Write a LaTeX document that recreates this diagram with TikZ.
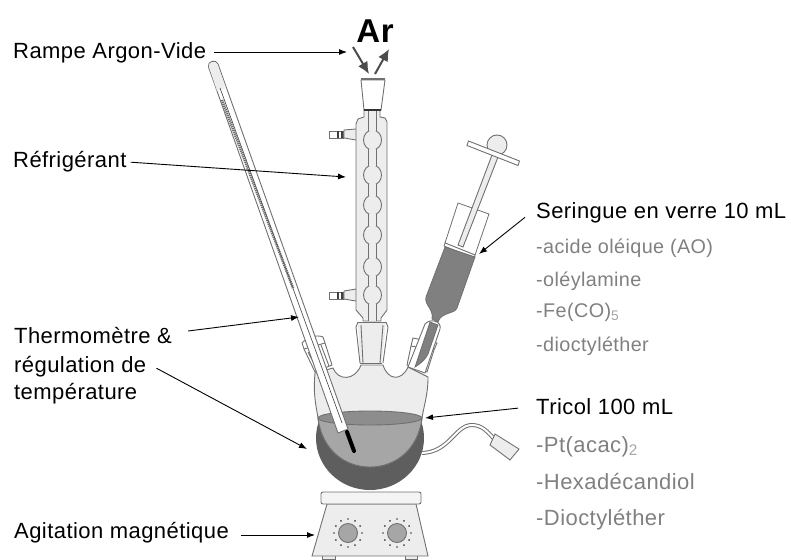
\documentclass[tikz,border=0pt]{standalone}
\usepackage{fontspec}
\setmainfont{Liberation Sans}[LetterSpace=2]
\usepackage{xcolor}
\usetikzlibrary{arrows.meta, positioning}
\definecolor{glass}{HTML}{EDEDED}
\definecolor{glassline}{HTML}{707070}
\definecolor{liquid}{HTML}{A6A6A6}
\definecolor{syrliquid}{HTML}{808080}
\definecolor{mantle}{HTML}{5E5E5E}
\definecolor{sublabel}{HTML}{808080}
\begin{document}
\begin{tikzpicture}[x=1pt, y=-1pt, >={Latex[length=8pt,width=6pt]},
  lab/.style={anchor=base west, inner sep=0pt, font=\fontsize{22}{26}\selectfont},
  sublab/.style={anchor=base west, inner sep=0pt, text=sublabel, font=\fontsize{19.8}{23}\selectfont},
  subtri/.style={anchor=base west, inner sep=0pt, text=sublabel, font=\fontsize{22}{26}\selectfont},
  conn/.style={->, line width=0.9pt},
  gas/.style={->, line width=2pt, draw=black!70, >={Latex[length=12pt,width=11pt]}},
  gl/.style={draw=glassline, line width=0.9pt, fill=glass},
  gw/.style={draw=glassline, line width=0.9pt, fill=white},
  neck/.style={glassline, line width=0.9pt}]
  \useasboundingbox (0,0) rectangle (791,559);

  % hot plate
  \draw[gl] (322,555) rectangle (335,559);
  \draw[gl] (405,555) rectangle (417,559);
  \draw[gl] (327,504) -- (416,504) -- (428,556) -- (312,556) -- cycle;
  \draw[gl, fill=glass!60, rounded corners=2pt] (321,492) rectangle (421,504);
  \foreach \kx in {348,397} {
    \draw[gl, fill=liquid] (\kx,533) circle (9.5);
    \foreach \ka in {0,30,...,330}
      \fill[black!75] (\kx,533) ++(\ka:14) circle (0.9);
  }

  % heating mantle and its cable
  \fill[mantle] (370,438) ellipse (54 and 52);
  \draw[glassline, line width=4pt] (422,453) .. controls (450,452) and (455,425) .. (472,425) .. controls (482,425) and (488,432) .. (495,440);
  \draw[white, line width=2pt] (422,453) .. controls (450,452) and (455,425) .. (472,425) .. controls (482,425) and (488,432) .. (495,440);
  \draw[gl] (495,434) -- (519,449) -- (510,460) -- (490,445) -- cycle;

  % flask
  \draw[gl] (315,373) .. controls (313,395) and (316,405) .. (318,418)
    .. controls (322,450) and (345,467) .. (370,467)
    .. controls (395,467) and (418,450) .. (422,418)
    .. controls (424,405) and (428,395) .. (428,377)
    -- (408,367) .. controls (402,381) and (388,381) .. (383,365)
    -- (361,365) .. controls (355,381) and (338,381) .. (333,368) -- cycle;
  \fill[liquid] (318,418) .. controls (322,450) and (345,467) .. (370,467)
    .. controls (395,467) and (418,450) .. (422,418) -- cycle;
  \draw[glassline, line width=0.9pt, fill=liquid!85!black] (370,418) ellipse (52 and 7);
  \draw[neck] (318,418) .. controls (322,450) and (345,467) .. (370,467)
    .. controls (395,467) and (418,450) .. (422,418);

  % central joint
  \draw[gl, draw=none] (358,322) -- (386,322) -- (382,363) -- (360,363) -- cycle;
  \draw[neck] (358,322) -- (386,322) (360,363) -- (382,363);
  \draw[neck] (358,322) -- (356,327) -- (360,363) (361,325) -- (363,363);
  \draw[neck] (386,322) -- (388,327) -- (383,363) (383,325) -- (380,363);

  % side joints
  \draw[gw] (302,343) -- (304,349) -- (315,372) -- (332,365) -- (325,343) -- (323,337) .. controls (316,334) and (306,338) .. (302,343);
  \draw[neck] (304,349) -- (325,343);
  \draw[neck] (308,352) -- (318,371) (321,345) -- (329,366);
  \draw[gw] (413,338) -- (437,343) -- (434,350) -- (427,372) -- (407,365) -- (411,346) -- cycle;
  \draw[neck] (411,346) -- (434,350);
  \draw[gl, fill=white] (425,324) .. controls (430,318) and (442,321) .. (440,329) -- (425,373) -- (408,367) -- cycle;

  % syringe
  \draw[glassline, line width=0.8pt, fill=white] (458,203) -- (489,214) -- (475,255) -- (445,243) -- cycle;
  \draw[glassline, fill=white, line width=0.8pt] (445,243) -- (475,255) -- (474,258) -- (444,246) -- cycle;
  \draw[gl] (492,155) -- (498,157) -- (463,247) -- (458,245) -- cycle;
  \draw[gl] (497,145) circle (10);
  \draw[gw] (468.5,141) -- (519.5,161) -- (518,165.5) -- (467,145.5) -- cycle;
  \draw[glassline, line width=0.8pt, fill=syrliquid] (445,247) -- (475,257) -- (457,308)
    .. controls (455,314) and (441,312) .. (438,322) -- (432,319)
    .. controls (434,309) and (424,305) .. (426,297) -- cycle;
  \draw[glassline, line width=0.8pt, fill=syrliquid] (430,322) -- (438,325) -- (428,354) .. controls (425,360) and (420,364) .. (415,367) -- cycle;

  % condenser
  \draw[gl] (356,129) -- (344,130) -- (344,138) -- (356,140);
  \draw[gw] (329,131) rectangle (343,138);
  \draw[black!75, line width=1.6pt] (338,131) -- (338,138) (342,131) -- (342,138);
  \draw[gl] (356,289) -- (344,291) -- (344,299) -- (356,301);
  \draw[gw] (329,292) rectangle (343,299);
  \draw[black!75, line width=1.6pt] (338,292) -- (338,299) (342,292) -- (342,299);
  \draw[gl] (364,110) -- (364,117) -- (358,119) -- (356,124) -- (356,310) -- (363,318) -- (363,321)
    -- (381,321) -- (381,318) -- (387,310) -- (387,122) -- (385,118) -- (380,117) -- (380,110) -- cycle;
  \foreach \by in {140,175,205,235,267,295}
    \draw[gl] (372.5,\by) ellipse (9 and 10);
  \foreach \ny/\nh in {110/21, 149/17, 184/12, 214/12, 244/14, 276/10, 304/17} {
    \fill[glass] (368.5,\ny) rectangle (376.5,\ny+\nh);
    \draw[neck] (368.5,\ny) -- (368.5,\ny+\nh);
    \draw[neck] (376.5,\ny) -- (376.5,\ny+\nh);
  }
  \draw[gw] (361,80) -- (385,80) -- (381,110) -- (364,110) -- cycle;
  \draw[black!80, line width=1.4pt] (364,110) -- (381,110);
  \draw[glassline, line width=2.2pt] (361,79) -- (385,79);

  % thermometer
  \draw[neck, fill=white] (208.5,67) .. controls (207,61) and (216,59) .. (218,64) -- (348,429) -- (338,433) -- cycle;
  \fill[glass] (209,67) .. controls (208,62) and (216,60) .. (217.5,64.5) -- (226,88) -- (217,91) -- cycle;
  \draw[black!75, line width=0.6pt] (220,88) -- (342,423);
  \draw[black!60, line width=2.6pt, dash pattern=on 1.2pt off 0.8pt] (222,100) -- (293,288);
  \draw[black, line width=4pt, line cap=round] (347,432) -- (354,451);

  % labels
  \node[lab] (rampe) at (13,59) {Rampe Argon-Vide};
  \node[lab] (refri) at (13,167) {Réfrigérant};
  \node[lab] (thermoa) at (14,343) {Thermomètre \&};
  \node[lab] (thermob) at (14,372) {régulation de};
  \node[lab] (thermoc) at (14,399) {température};
  \node[lab] (agit) at (14,538) {Agitation magnétique};
  \node[lab] (seri) at (536,218) {Seringue en verre 10 mL};
  \node[lab] (tri) at (536,414) {Tricol 100 mL};
  \node[sublab] at (536,253) {-acide oléique (AO)};
  \node[sublab] at (536,286) {-oléylamine};
  \node[sublab] at (536,317) {-Fe(CO)\textsubscript{\textcolor{black!35}{5}}};
  \node[sublab] at (536,351) {-dioctyléther};
  \node[subtri] at (536,452) {-Pt(acac)\textsubscript{\textcolor{black!35}{2}}};
  \node[subtri] at (536,489) {-Hexadécandiol};
  \node[subtri] at (536,525) {-Dioctyléther};
  \node[inner sep=0pt, font=\bfseries\fontsize{33}{36}\selectfont] (ar) at (375,31) {Ar};

  % connectors
  \coordinate (rampetip) at (347,52);
  \coordinate (refritip) at (346,177);
  \coordinate (thermotip) at (299,317);
  \coordinate (regultip) at (307,449);
  \coordinate (agittip) at (315,535);
  \coordinate (seritip) at (479,254);
  \coordinate (tritip) at (425,418);
  \coordinate (gasinA) at (353,47);
  \coordinate (gasinB) at (369,74);
  \coordinate (gasoutA) at (375,74);
  \coordinate (gasoutB) at (389,49);
  \draw[conn] ([xshift=8pt]rampe.east |- rampetip) -- (rampetip);
  \draw[conn] ([xshift=4pt,yshift=-1pt]refri.east) -- (refritip);
  \draw[conn] ([xshift=16pt,yshift=4pt]thermoa.east) -- (thermotip);
  \draw[conn] ([xshift=10pt,yshift=-2pt]thermob.east) -- (regultip);
  \draw[conn] ([xshift=12pt]agit.east |- agittip) -- (agittip);
  \draw[conn] ([xshift=-11pt,yshift=-5pt]seri.west) -- (seritip);
  \draw[conn] ([xshift=-18pt,yshift=-2pt]tri.west) -- (tritip);
  \draw[gas] (gasinA) -- (gasinB);
  \draw[gas] (gasoutA) -- (gasoutB);
\end{tikzpicture}
\end{document}
